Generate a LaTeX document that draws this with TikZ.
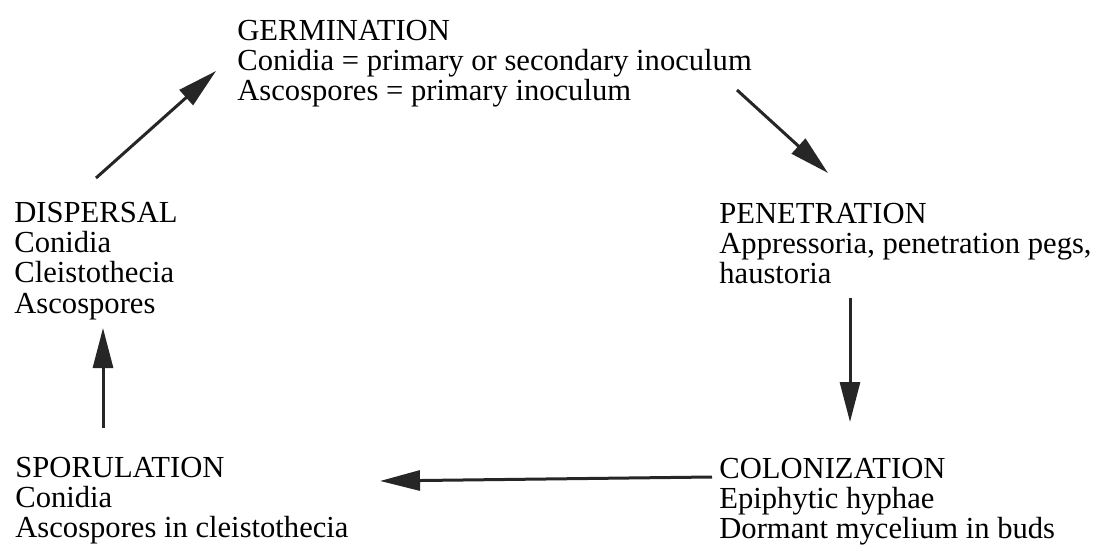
\documentclass[tikz,border=0pt]{standalone}
\usepackage{fontspec}
\setmainfont{Liberation Serif}
\usetikzlibrary{arrows.meta}

\tikzset{
  stage/.style={anchor=north west, inner sep=0pt, align=left,
    font=\fontsize{15.3}{15.2}\selectfont},
  flow/.style={-{Triangle[length=20pt,width=10pt]}, line width=1.5pt, black!85},
}

\begin{document}
\begin{tikzpicture}[x=0.5pt,y=-0.5pt]
\useasboundingbox (0,0) rectangle (1116,546);

\node[stage] (germ) at (237,19.5) {GERMINATION\\Conidia = primary or secondary inoculum\\Ascospores = primary inoculum};
\node[stage] (pen) at (719,202.5) {PENETRATION\\Appressoria, penetration pegs,\\haustoria};
\node[stage] (col) at (719,457.5) {COLONIZATION\\Epiphytic hyphae\\Dormant mycelium in buds};
\node[stage] (spor) at (15,456.5) {SPORULATION\\Conidia\\Ascospores in cleistothecia};
\node[stage] (disp) at (14,201.5) {DISPERSAL\\Conidia\\Cleistothecia\\Ascospores};

\coordinate (d1) at (96,178);
\coordinate (g1) at (216,71);
\coordinate (g2) at (737,90);
\coordinate (p1) at (828,173);
\coordinate (p2) at (850,298);
\coordinate (c1) at (850,422);
\coordinate (c2) at (712,477);
\coordinate (s1) at (380,481);
\coordinate (s2) at (103,428);
\coordinate (d2) at (103,328);

\draw[flow] (d1) -- (g1);
\draw[flow] (g2) -- (p1);
\draw[flow] (p2) -- (c1);
\draw[flow] (c2) -- (s1);
\draw[flow] (s2) -- (d2);

\end{tikzpicture}
\end{document}
